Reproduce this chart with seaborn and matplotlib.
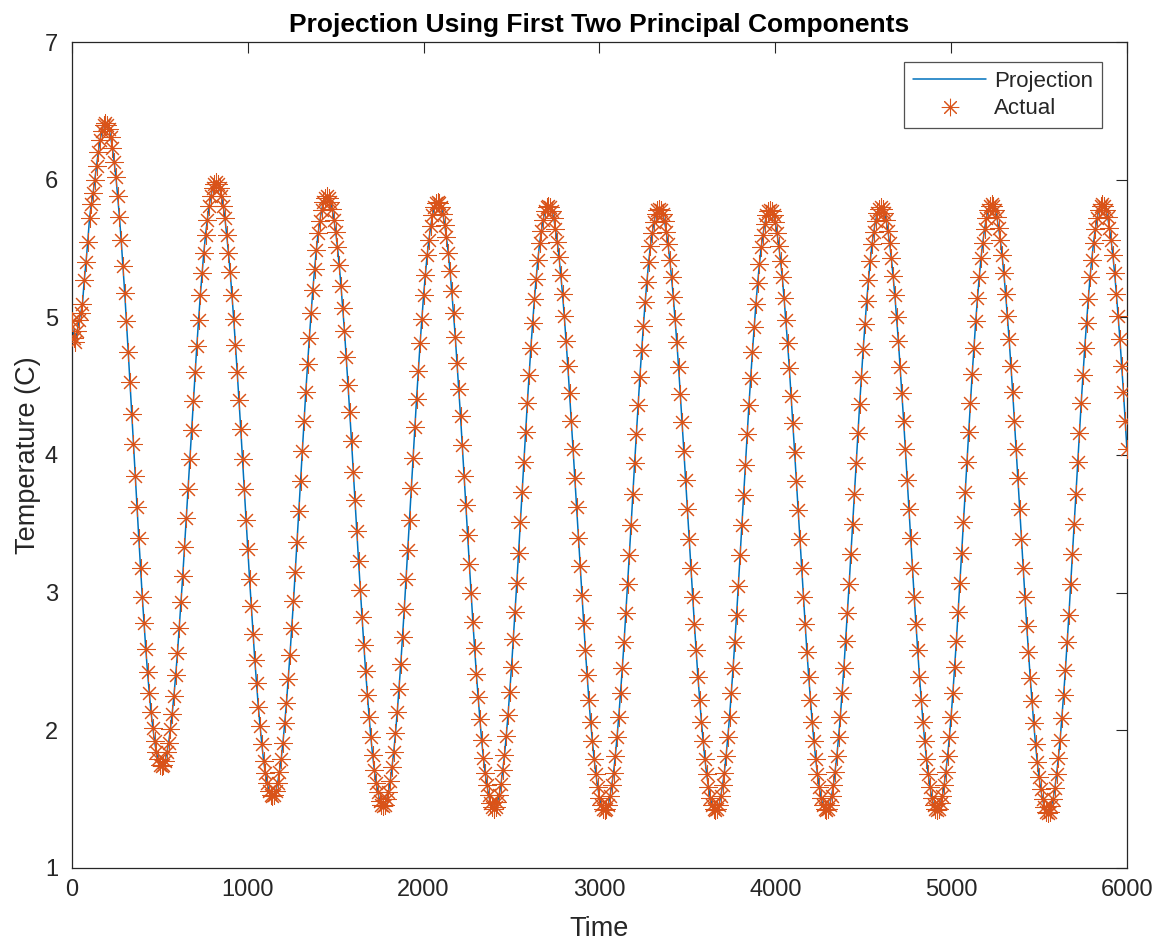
import numpy as np
import pandas as pd
import matplotlib
matplotlib.use("Agg")
import matplotlib.pyplot as plt
from matplotlib.lines import Line2D
import seaborn as sns

time_step = 10
rise_0 = [4.97, 4.85, 4.82, 4.90, 4.98, 5.03, 5.10, 5.27, 5.40, 5.55, 5.72, 5.82, 5.90, 6.00, 6.10, 6.20, 6.29, 6.35, 6.40, 6.41]
fall_1 = [6.40, 6.37, 6.31, 6.23, 6.13, 6.02, 5.88, 5.73, 5.56, 5.37, 5.18, 4.97, 4.75, 4.53, 4.30, 4.08, 3.85, 3.62, 3.40, 3.18, 2.97, 2.78, 2.59, 2.42, 2.27, 2.13, 2.02, 1.92, 1.84, 1.79, 1.75, 1.74]
rise_1 = [1.75, 1.78, 1.84, 1.91, 2.01, 2.12, 2.25, 2.40, 2.56, 2.74, 2.93, 3.12, 3.33, 3.54, 3.75, 3.97, 4.18, 4.39, 4.60, 4.79, 4.98, 5.16, 5.32, 5.47, 5.60, 5.71, 5.81, 5.88, 5.94, 5.97, 5.98]
fall_2 = [5.97, 5.94, 5.88, 5.81, 5.72, 5.60, 5.47, 5.33, 5.16, 4.99, 4.80, 4.60, 4.40, 4.19, 3.97, 3.75, 3.53, 3.32, 3.10, 2.90, 2.70, 2.51, 2.34, 2.17, 2.03, 1.90, 1.78, 1.69, 1.62, 1.56, 1.53, 1.52]
rise_2 = [1.53, 1.56, 1.62, 1.70, 1.79, 1.91, 2.05, 2.20, 2.37, 2.55, 2.74, 2.94, 3.15, 3.37, 3.59, 3.81, 4.03, 4.25, 4.46, 4.66, 4.85, 5.03, 5.20, 5.35, 5.49, 5.61, 5.70, 5.78, 5.84, 5.87, 5.88]
fall_3 = [5.87, 5.84, 5.79, 5.71, 5.62, 5.51, 5.38, 5.23, 5.07, 4.90, 4.71, 4.51, 4.31, 4.10, 3.88, 3.67, 3.45, 3.23, 3.02, 2.82, 2.62, 2.43, 2.26, 2.10, 1.95, 1.82, 1.71, 1.62, 1.55, 1.49, 1.46, 1.45]
rise_3 = [1.46, 1.50, 1.55, 1.63, 1.73, 1.84, 1.98, 2.13, 2.30, 2.48, 2.68, 2.88, 3.10, 3.31, 3.53, 3.76, 3.98, 4.20, 4.41, 4.61, 4.81, 4.99, 5.16, 5.31, 5.45, 5.56, 5.66, 5.74, 5.80, 5.83, 5.84]
fall_4 = [5.83, 5.80, 5.75, 5.67, 5.58, 5.47, 5.34, 5.19, 5.03, 4.86, 4.67, 4.48, 4.28, 4.07, 3.85, 3.64, 3.42, 3.21, 3.00, 2.79, 2.60, 2.41, 2.24, 2.08, 1.93, 1.80, 1.69, 1.60, 1.53, 1.47, 1.44, 1.43]
rise_4 = [1.44, 1.48, 1.53, 1.61, 1.71, 1.82, 1.96, 2.11, 2.28, 2.46, 2.66, 2.86, 3.07, 3.29, 3.51, 3.73, 3.95, 4.17, 4.38, 4.58, 4.78, 4.96, 5.13, 5.28, 5.42, 5.54, 5.63, 5.71, 5.77, 5.80, 5.81]
fall_5 = [5.80, 5.77, 5.72, 5.64, 5.55, 5.44, 5.31, 5.17, 5.01, 4.83, 4.65, 4.45, 4.25, 4.04, 3.83, 3.62, 3.40, 3.19, 2.98, 2.78, 2.58, 2.40, 2.22, 2.06, 1.92, 1.79, 1.68, 1.59, 1.51, 1.46, 1.43, 1.42]
rise_5 = [1.43, 1.46, 1.52, 1.60, 1.69, 1.81, 1.95, 2.10, 2.27, 2.45, 2.64, 2.85, 3.06, 3.27, 3.49, 3.72, 3.94, 4.15, 4.36, 4.57, 4.76, 4.94, 5.11, 5.26, 5.40, 5.52, 5.61, 5.69, 5.75, 5.78, 5.79]
fall_6 = [5.78, 5.75, 5.70, 5.62, 5.53, 5.42, 5.29, 5.15, 4.99, 4.82, 4.64, 4.44, 4.24, 4.03, 3.82, 3.61, 3.39, 3.18, 2.97, 2.77, 2.58, 2.39, 2.22, 2.06, 1.92, 1.79, 1.68, 1.59, 1.51, 1.46, 1.43, 1.42]
rise_6 = [1.43, 1.46, 1.52, 1.60, 1.69, 1.81, 1.95, 2.10, 2.27, 2.45, 2.64, 2.84, 3.05, 3.27, 3.49, 3.71, 3.93, 4.15, 4.36, 4.56, 4.75, 4.93, 5.10, 5.25, 5.39, 5.51, 5.60, 5.68, 5.74, 5.77, 5.78]
fall_7 = [5.77, 5.74, 5.69, 5.61, 5.52, 5.41, 5.29, 5.14, 4.98, 4.81, 4.63, 4.43, 4.23, 4.02, 3.81, 3.60, 3.39, 3.18, 2.97, 2.77, 2.57, 2.39, 2.22, 2.06, 1.92, 1.79, 1.68, 1.59, 1.51, 1.46, 1.43, 1.42]
rise_7 = [1.43, 1.46, 1.52, 1.60, 1.70, 1.81, 1.95, 2.10, 2.27, 2.45, 2.65, 2.85, 3.06, 3.28, 3.50, 3.72, 3.94, 4.16, 4.37, 4.57, 4.77, 4.95, 5.12, 5.27, 5.41, 5.53, 5.62, 5.70, 5.76, 5.79, 5.80]
fall_8 = [5.79, 5.76, 5.71, 5.63, 5.54, 5.43, 5.30, 5.16, 5.00, 4.83, 4.64, 4.45, 4.25, 4.04, 3.82, 3.61, 3.40, 3.18, 2.97, 2.77, 2.58, 2.39, 2.22, 2.06, 1.92, 1.79, 1.68, 1.59, 1.51, 1.46, 1.43, 1.42]
rise_8 = [1.43, 1.47, 1.52, 1.60, 1.70, 1.81, 1.95, 2.10, 2.27, 2.46, 2.65, 2.86, 3.07, 3.29, 3.51, 3.73, 3.95, 4.17, 4.38, 4.59, 4.78, 4.97, 5.14, 5.29, 5.43, 5.54, 5.64, 5.72, 5.78, 5.81, 5.82]
fall_9 = [5.81, 5.78, 5.73, 5.65, 5.56, 5.45, 5.32, 5.17, 5.01, 4.84, 4.65, 4.46, 4.25, 4.04, 3.83, 3.61, 3.39, 3.18, 2.97, 2.76, 2.57, 2.38, 2.21, 2.05, 1.90, 1.77, 1.66, 1.57, 1.50, 1.44, 1.41, 1.40]
rise_9 = [1.41, 1.45, 1.50, 1.58, 1.68, 1.80, 1.93, 2.09, 2.26, 2.44, 2.64, 2.84, 3.06, 3.28, 3.50, 3.72, 3.95, 4.16, 4.38, 4.58, 4.78, 4.96, 5.13, 5.29, 5.42, 5.54, 5.64, 5.72, 5.78, 5.81, 5.82]
fall_10 = [5.81, 5.78, 5.73, 5.65, 5.56, 5.45, 5.32, 5.17, 5.01, 4.84, 4.65, 4.46, 4.25, 4.04]

segments = [rise_0, fall_1, rise_1, fall_2, rise_2, fall_3, rise_3, fall_4, rise_4, fall_5,
            rise_5, fall_6, rise_6, fall_7, rise_7, fall_8, rise_8, fall_9, rise_9, fall_10]
temperature = [v for seg in segments for v in seg]
time = np.arange(len(temperature)) * time_step

x_ticks = [0, 1000, 2000, 3000, 4000, 5000, 6000]
y_ticks = [1, 2, 3, 4, 5, 6, 7]
title = "Projection Using First Two Principal Components"
x_label = "Time"
y_label = "Temperature (C)"
series_names = ["Projection", "Actual"]

df = pd.DataFrame({"Time": time, "Temp": temperature})

# ---- styling ----
sns.set_style("white")
plt.rcParams["font.family"] = ["Liberation Sans", "DejaVu Sans"]

line_color = "#0072BD"
marker_color = "#D95319"
axis_color = "#262626"
asterisk = (8, 2, 0)

fig = plt.figure(figsize=(11.53, 9.42), dpi=100)
ax = fig.add_axes([0.0624, 0.0786, 0.915, 0.8768])

sns.lineplot(data=df, x="Time", y="Temp", ax=ax, color=line_color, linewidth=1.1,
             estimator=None, sort=False, zorder=2)
sns.scatterplot(data=df, x="Time", y="Temp", ax=ax, marker=asterisk, s=160,
                color=marker_color, edgecolor=marker_color, linewidth=0.75, zorder=3)

ax.set_xlim(0, 6000)
ax.set_ylim(1, 7)
ax.set_xticks(x_ticks)
ax.set_yticks(y_ticks)
ax.set_xticklabels([str(t) for t in x_ticks])
ax.set_yticklabels([str(t) for t in y_ticks])

for s in ax.spines.values():
    s.set_visible(True)
    s.set_color(axis_color)
    s.set_linewidth(0.9)

ax.tick_params(axis="both", which="major", direction="in", length=8, width=0.8,
               colors=axis_color, labelsize=17, top=True, right=True)
ax.tick_params(axis="x", pad=8)
ax.tick_params(axis="y", pad=10)

ax.set_xlabel(x_label, fontsize=19.5, color=axis_color, labelpad=11)
ax.set_ylabel(y_label, fontsize=19.5, color=axis_color, labelpad=3)
ax.set_title(title, fontsize=19, fontweight="bold", color="black", pad=7)

handles = [
    Line2D([0], [0], color=line_color, linewidth=1.1),
    Line2D([0], [0], color=marker_color, linestyle="none", marker=asterisk,
           markersize=12.5, markeredgewidth=0.75),
]
leg = ax.legend(handles, series_names, loc="upper right", bbox_to_anchor=(0.9765, 0.976),
                fontsize=16, frameon=True, fancybox=False, handlelength=3.3,
                handletextpad=0.35, borderpad=0.4, labelspacing=0.3, borderaxespad=0)
leg.get_frame().set_edgecolor(axis_color)
leg.get_frame().set_linewidth(0.9)

fig.savefig("out.png", dpi=100, facecolor="white")
